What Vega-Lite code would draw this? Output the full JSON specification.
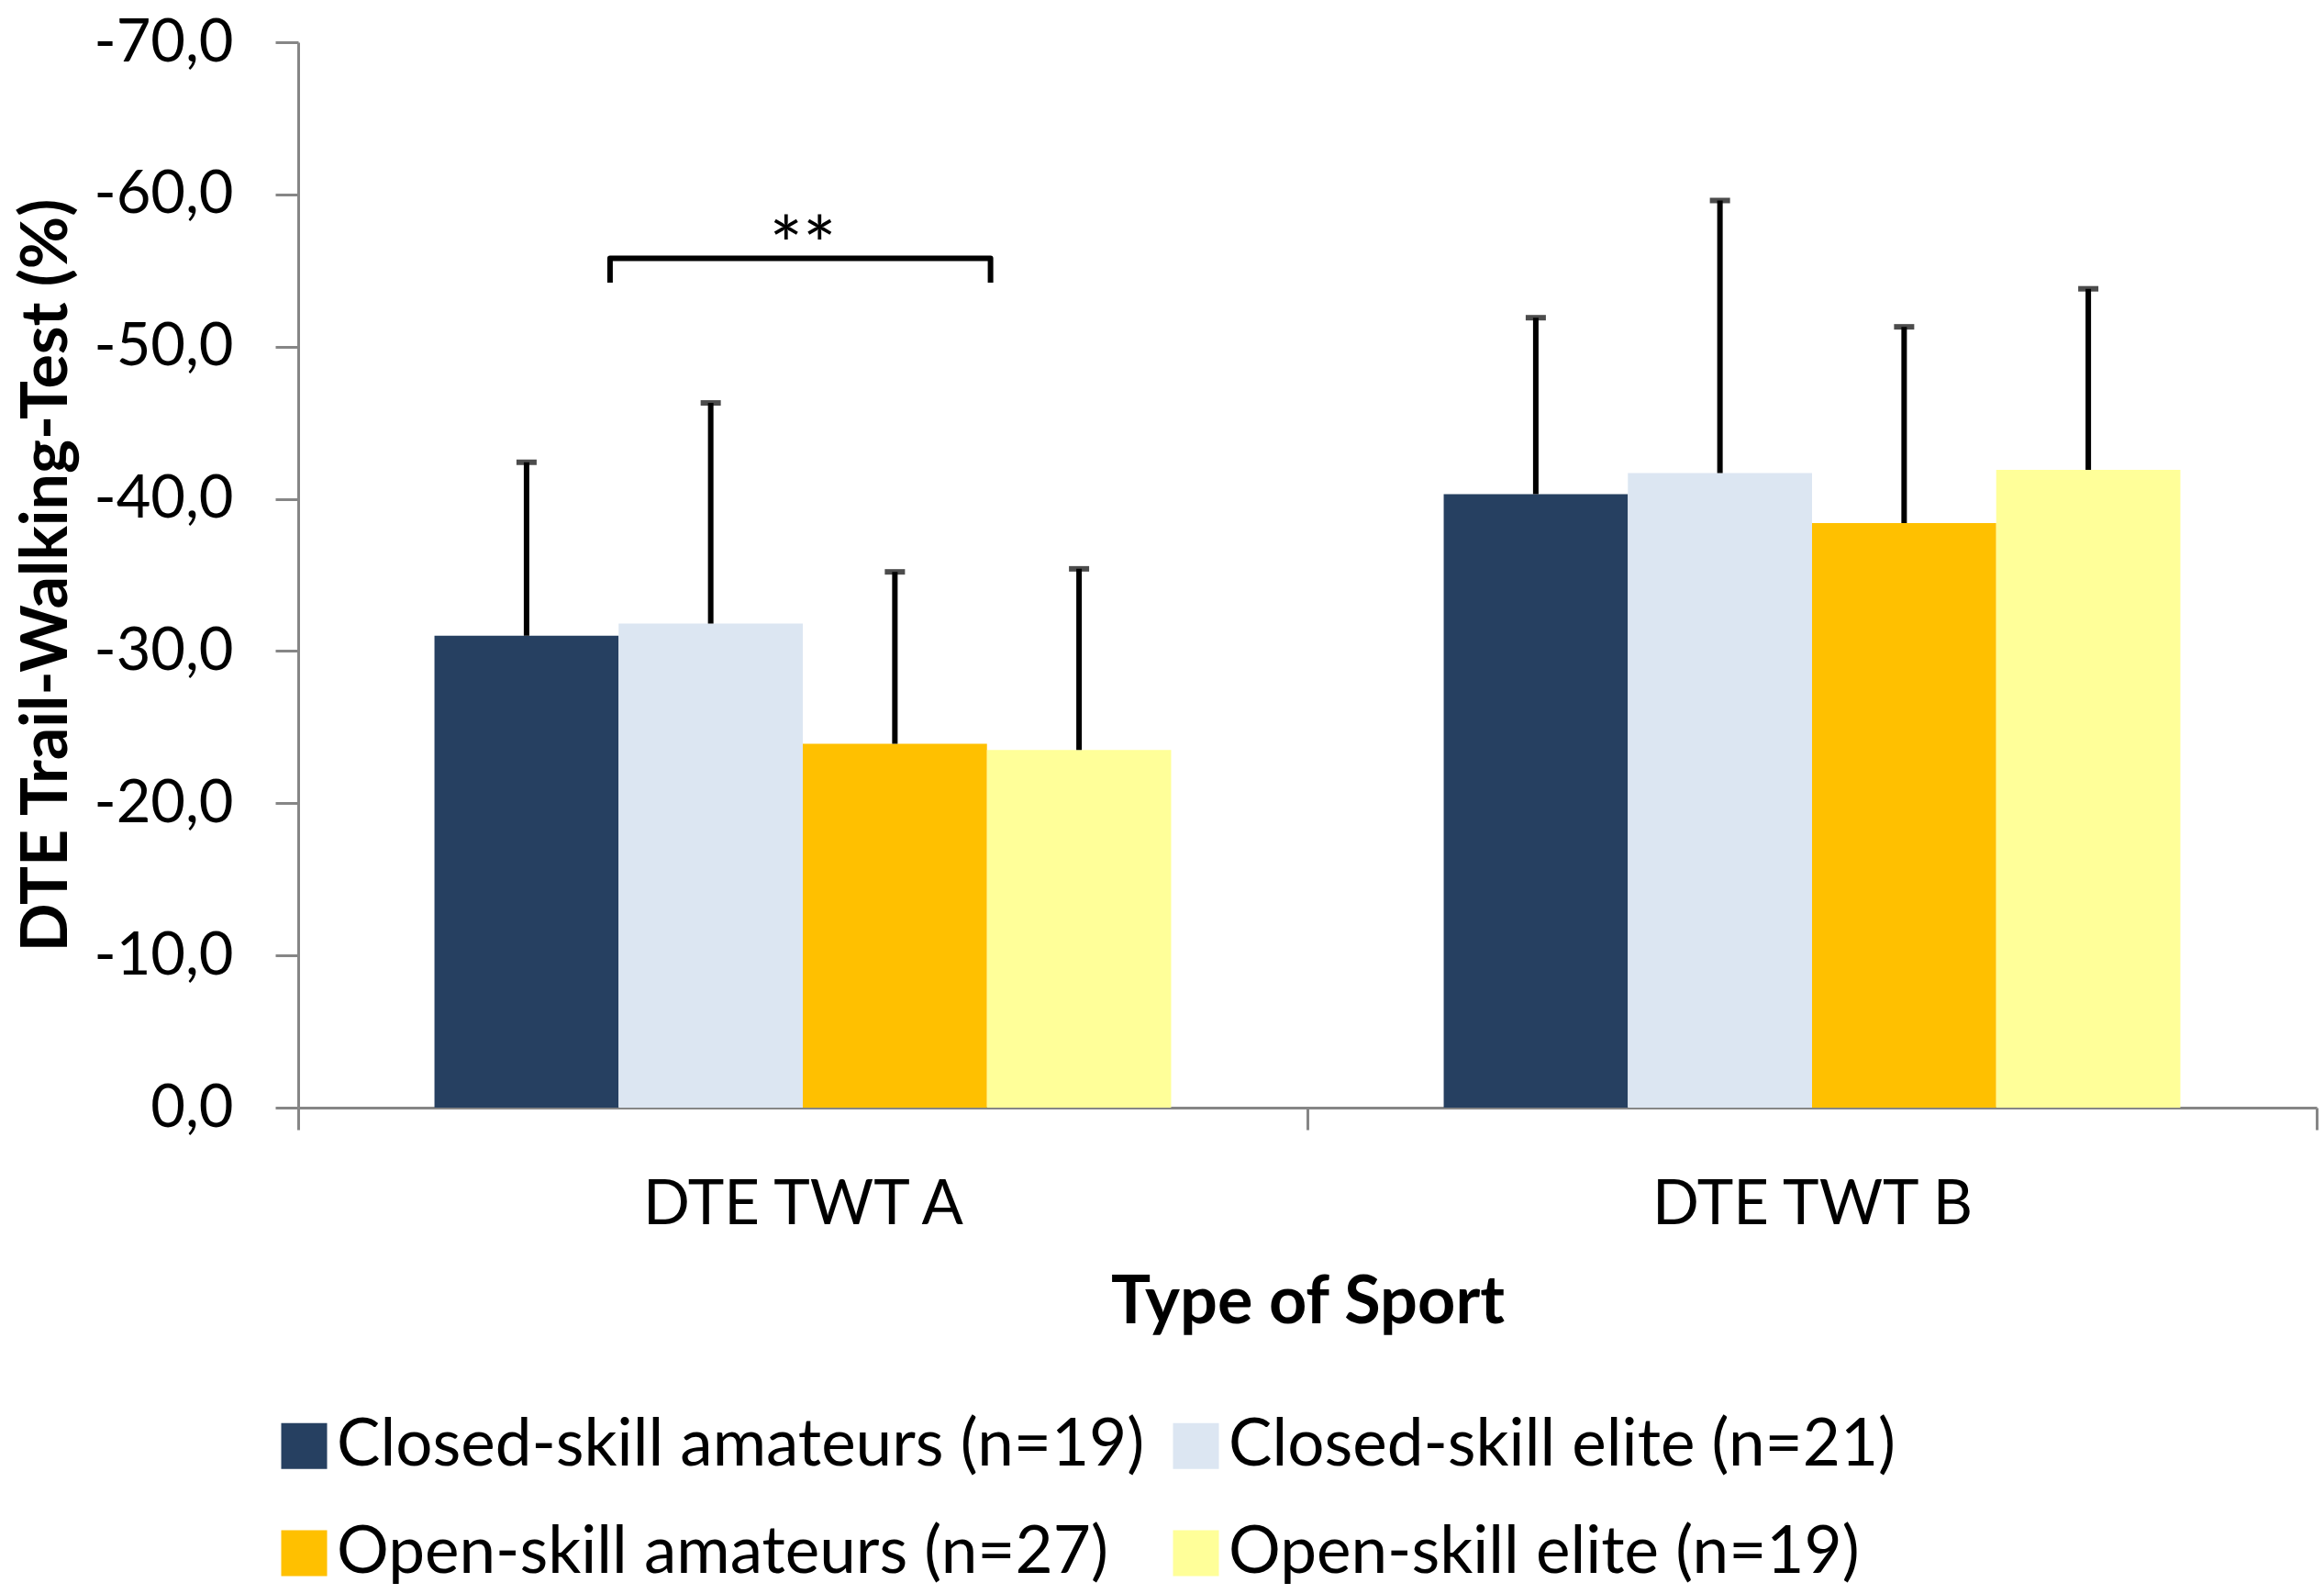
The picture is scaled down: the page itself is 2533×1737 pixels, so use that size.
{
  "$schema": "https://vega.github.io/schema/vega-lite/v6.json",
  "width": 2200,
  "height": 1161,
  "autosize": {"type": "none"},
  "padding": {"left": 325, "top": 46, "right": 8, "bottom": 530},
  "background": "white",
  "config": {"font": "Lato", "view": {"stroke": null}},
  "datasets": {
    "bars": [
      {"test": "DTE TWT A", "group": "Closed-skill amateurs (n=19)", "mean": -31.0, "upper": -42.4},
      {"test": "DTE TWT A", "group": "Closed-skill elite (n=21)", "mean": -31.8, "upper": -46.3},
      {"test": "DTE TWT A", "group": "Open-skill amateurs (n=27)", "mean": -23.9, "upper": -35.2},
      {"test": "DTE TWT A", "group": "Open-skill elite (n=19)", "mean": -23.5, "upper": -35.4},
      {"test": "DTE TWT B", "group": "Closed-skill amateurs (n=19)", "mean": -40.3, "upper": -51.9},
      {"test": "DTE TWT B", "group": "Closed-skill elite (n=21)", "mean": -41.7, "upper": -59.6},
      {"test": "DTE TWT B", "group": "Open-skill amateurs (n=27)", "mean": -38.4, "upper": -51.3},
      {"test": "DTE TWT B", "group": "Open-skill elite (n=19)", "mean": -41.9, "upper": -53.8}
    ],
    "bracket": [
      {"pos": 0.309, "v": -54.2, "k": 1},
      {"pos": 0.309, "v": -55.8, "k": 2},
      {"pos": 0.686, "v": -55.8, "k": 3},
      {"pos": 0.686, "v": -54.2, "k": 4}
    ],
    "sig": [{"pos": 0.5, "v": -56.4, "label": "**"}]
  },
  "layer": [
    {
      "data": {"name": "bars"},
      "layer": [
        {
          "mark": {"type": "bar"},
          "encoding": {
            "x": {
              "field": "test", "type": "nominal",
              "scale": {"paddingInner": 0, "paddingOuter": 0},
              "axis": {
                "title": "Type of Sport", "labelAngle": 0, "tickBand": "extent",
                "labelFontSize": 67, "labelColor": "black", "labelPadding": 49, "labelLimit": 2000,
                "tickSize": 24, "tickColor": "#868686", "tickWidth": 3,
                "domainColor": "#868686", "domainWidth": 3,
                "titleFontSize": 72, "titleFontWeight": "bold", "titleColor": "black", "titlePadding": 38
              }
            },
            "xOffset": {
              "field": "group", "type": "nominal",
              "scale": {"domain": ["Closed-skill amateurs (n=19)", "Closed-skill elite (n=21)", "Open-skill amateurs (n=27)", "Open-skill elite (n=19)"], "paddingInner": 0, "paddingOuter": 0.74}
            },
            "y": {
              "field": "mean", "type": "quantitative",
              "scale": {"domain": [-70, 0], "reverse": true, "nice": false},
              "axis": {
                "title": "DTE Trail-Walking-Test (%)",
                "values": [-70, -60, -50, -40, -30, -20, -10, 0],
                "labelExpr": "replace(replace(format(datum.value, '.1f'), '.', ','), '\u2212', '-')",
                "labelFontSize": 65, "labelColor": "black", "labelPadding": 46,
                "tickSize": 25, "tickColor": "#868686", "tickWidth": 3,
                "domainColor": "#868686", "domainWidth": 3, "grid": false,
                "titleFontSize": 70, "titleFontWeight": "bold", "titleColor": "black", "titlePadding": 38
              }
            },
            "color": {
              "field": "group", "type": "nominal",
              "scale": {
                "domain": ["Closed-skill amateurs (n=19)", "Closed-skill elite (n=21)", "Open-skill amateurs (n=27)", "Open-skill elite (n=19)"],
                "range": ["#264061", "#DCE6F2", "#FFC000", "#FFFF99"]
              },
              "legend": {
                "title": null, "orient": "none", "legendX": -29, "legendY": 1494,
                "direction": "horizontal", "columns": 2,
                "symbolType": "square", "symbolSize": 2500, "symbolStrokeWidth": 0,
                "labelFontSize": 71, "labelColor": "black", "labelLimit": 1500,
                "labelOffset": 0, "columnPadding": 20, "rowPadding": 45
              }
            }
          }
        },
        {
          "mark": {"type": "rule", "color": "black", "strokeWidth": 6},
          "encoding": {
            "x": {"field": "test", "type": "nominal"},
            "xOffset": {"field": "group", "type": "nominal"},
            "y": {"field": "mean", "type": "quantitative"},
            "y2": {"field": "upper"}
          }
        },
        {
          "mark": {"type": "tick", "color": "black", "size": 22, "thickness": 6, "orient": "horizontal"},
          "encoding": {
            "x": {"field": "test", "type": "nominal"},
            "xOffset": {"field": "group", "type": "nominal"},
            "y": {"field": "upper", "type": "quantitative"}
          }
        }
      ]
    },
    {
      "layer": [
        {
          "data": {"name": "bracket"},
          "mark": {"type": "line", "color": "black", "strokeWidth": 6, "strokeJoin": "round"},
          "encoding": {
            "x": {"field": "pos", "type": "quantitative", "scale": {"domain": [0, 2], "nice": false, "zero": false}, "axis": null},
            "y": {"field": "v", "type": "quantitative", "scale": {"domain": [-70, 0], "reverse": true, "nice": false}},
            "order": {"field": "k", "type": "quantitative"}
          }
        },
        {
          "data": {"name": "sig"},
          "mark": {"type": "text", "fontSize": 86, "color": "black", "baseline": "middle", "align": "center"},
          "encoding": {
            "x": {"field": "pos", "type": "quantitative", "scale": {"domain": [0, 2], "nice": false, "zero": false}, "axis": null},
            "y": {"field": "v", "type": "quantitative", "scale": {"domain": [-70, 0], "reverse": true, "nice": false}},
            "text": {"field": "label"}
          }
        }
      ]
    }
  ],
  "resolve": {"scale": {"x": "independent"}}
}
